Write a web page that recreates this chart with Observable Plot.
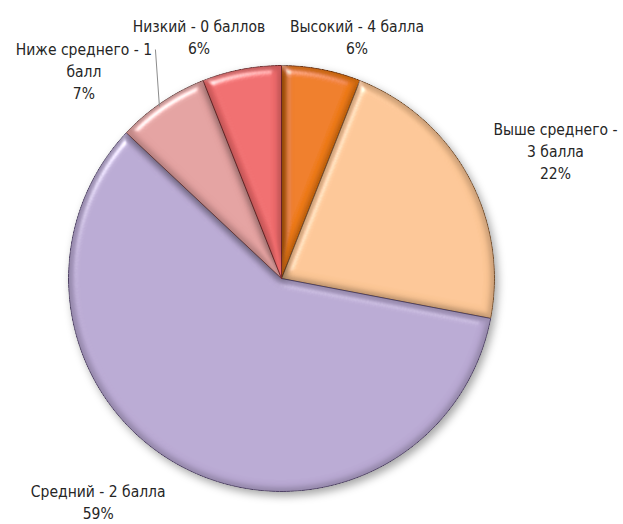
<!DOCTYPE html>
<html>
<head>
<meta charset="utf-8">
<script src="https://cdn.jsdelivr.net/npm/d3@7"></script>
<script src="https://cdn.jsdelivr.net/npm/@observablehq/plot@0.6"></script>
<style>
  html, body { margin: 0; padding: 0; background: #fff; }
  #chart { width: 623px; height: 524px; }
</style>
</head>
<body>
<div id="chart"></div>
<script>
// ---- data ----
const categories = ["Высокий - 4 балла", "Выше среднего - 3 балла", "Средний - 2 балла", "Ниже среднего - 1 балл", "Низкий - 0 баллов"];
const labelText = ["Высокий - 4 балла", "Выше среднего -\n3 балла", "Средний - 2 балла", "Ниже среднего - 1\nбалл", "Низкий - 0 баллов"];
const values = [6, 22, 59, 7, 6];
const colors = ["#EE7A16", "#FBC594", "#B8A8D2", "#E2A09F", "#EF6B6C"];
const edgeColors = ["#7a3404", "#8c5e36", "#5f4f7a", "#7e4a48", "#7e2c2e"];

// ---- layout ----
const W = 623, H = 524;
const cx = 281, cy = 278, R = 213;
const labelR = 243;
// label nudges (px) from the point at mid-angle on radius labelR
const labelNudge = [[30, -4], [61, -11], [-73, 6], [-61, -8], [-37, -4]];

const total = d3.sum(values);
const pt = (a, r) => [cx + r * Math.sin(a), cy - r * Math.cos(a)];

let acc = 0;
const slices = values.map((v, i) => {
  const a0 = acc / total * 2 * Math.PI;
  acc += v;
  const a1 = acc / total * 2 * Math.PI;
  const pts = [{x: cx, y: cy}];
  const n = Math.max(4, Math.ceil((a1 - a0) / (Math.PI / 180)));
  for (let k = 0; k <= n; k++) {
    const [x, y] = pt(a0 + (a1 - a0) * k / n, R);
    pts.push({x, y});
  }
  pts.push({x: cx, y: cy});
  const mid = (a0 + a1) / 2;
  const [lx, ly] = pt(mid, labelR);
  return {i, cat: categories[i], v, a0, a1, mid, pts,
    label: labelText[i] + "\n" + v + "%",
    lx: lx + labelNudge[i][0], ly: ly + labelNudge[i][1]};
});

// leader line for "Ниже среднего"
const lower = slices[3];
const [ex, ey] = pt(lower.mid - 0.02, R - 2);
const leader = [{x1: ex, y1: ey, x2: ex - 4, y2: lower.ly - 20}];

const marks = [];
slices.forEach((s, i) => {
  marks.push(Plot.line(s.pts, {x: "x", y: "y", fill: colors[i], stroke: edgeColors[i], strokeWidth: 1, strokeLinejoin: "round", curve: "linear"}));
});
marks.push(Plot.link(leader, {x1: "x1", y1: "y1", x2: "x2", y2: "y2", stroke: "#8c8c8c", strokeWidth: 1}));
marks.push(Plot.text(slices, {x: "lx", y: "ly", text: "label", fill: "#262626", fontSize: 15.5, lineHeight: 1.42, textAnchor: "middle"}));

const chart = Plot.plot({
  width: W, height: H,
  margin: 0,
  style: {fontFamily: "'Liberation Sans Narrow', 'DejaVu Sans Condensed', 'Open Sans', sans-serif", background: "#fff", overflow: "visible"},
  x: {domain: [0, W], range: [0, W], axis: null},
  y: {domain: [0, H], range: [0, H], axis: null},
  marks
});

// bevel + shadow filters
const svg = d3.select(chart);
const defs = svg.insert("defs", ":first-child");
const bevel = defs.append("filter").attr("id", "bevel").attr("x", "-5%").attr("y", "-5%").attr("width", "110%").attr("height", "110%");
bevel.append("feGaussianBlur").attr("in", "SourceAlpha").attr("stdDeviation", 5).attr("result", "blur");
const diff = bevel.append("feDiffuseLighting").attr("in", "blur").attr("surfaceScale", 7).attr("diffuseConstant", 1.0).attr("lighting-color", "#fff").attr("result", "diff");
diff.append("feDistantLight").attr("azimuth", 235).attr("elevation", 90);
bevel.append("feComposite").attr("in", "SourceGraphic").attr("in2", "diff").attr("operator", "arithmetic").attr("k1", 1).attr("k2", 0).attr("k3", 0).attr("k4", 0).attr("result", "shaded");
const spec = bevel.append("feSpecularLighting").attr("in", "blur").attr("surfaceScale", 7).attr("specularConstant", 0.8).attr("specularExponent", 30).attr("lighting-color", "#fff").attr("result", "spec");
spec.append("feDistantLight").attr("azimuth", 235).attr("elevation", 35);
bevel.append("feComposite").attr("in", "spec").attr("in2", "SourceAlpha").attr("operator", "in").attr("result", "specIn");
bevel.append("feComposite").attr("in", "shaded").attr("in2", "specIn").attr("operator", "arithmetic").attr("k1", 0).attr("k2", 1).attr("k3", 0.8).attr("k4", 0).attr("result", "lit");
bevel.append("feComposite").attr("in", "lit").attr("in2", "SourceAlpha").attr("operator", "in");

svg.selectAll("g[aria-label='line'] path").attr("filter", "url(#bevel)");
svg.selectAll("g[aria-label='line']").style("filter", "drop-shadow(3px 4px 4px rgba(0,0,0,0.35))");

document.getElementById("chart").appendChild(chart);
</script>
</body>
</html>
